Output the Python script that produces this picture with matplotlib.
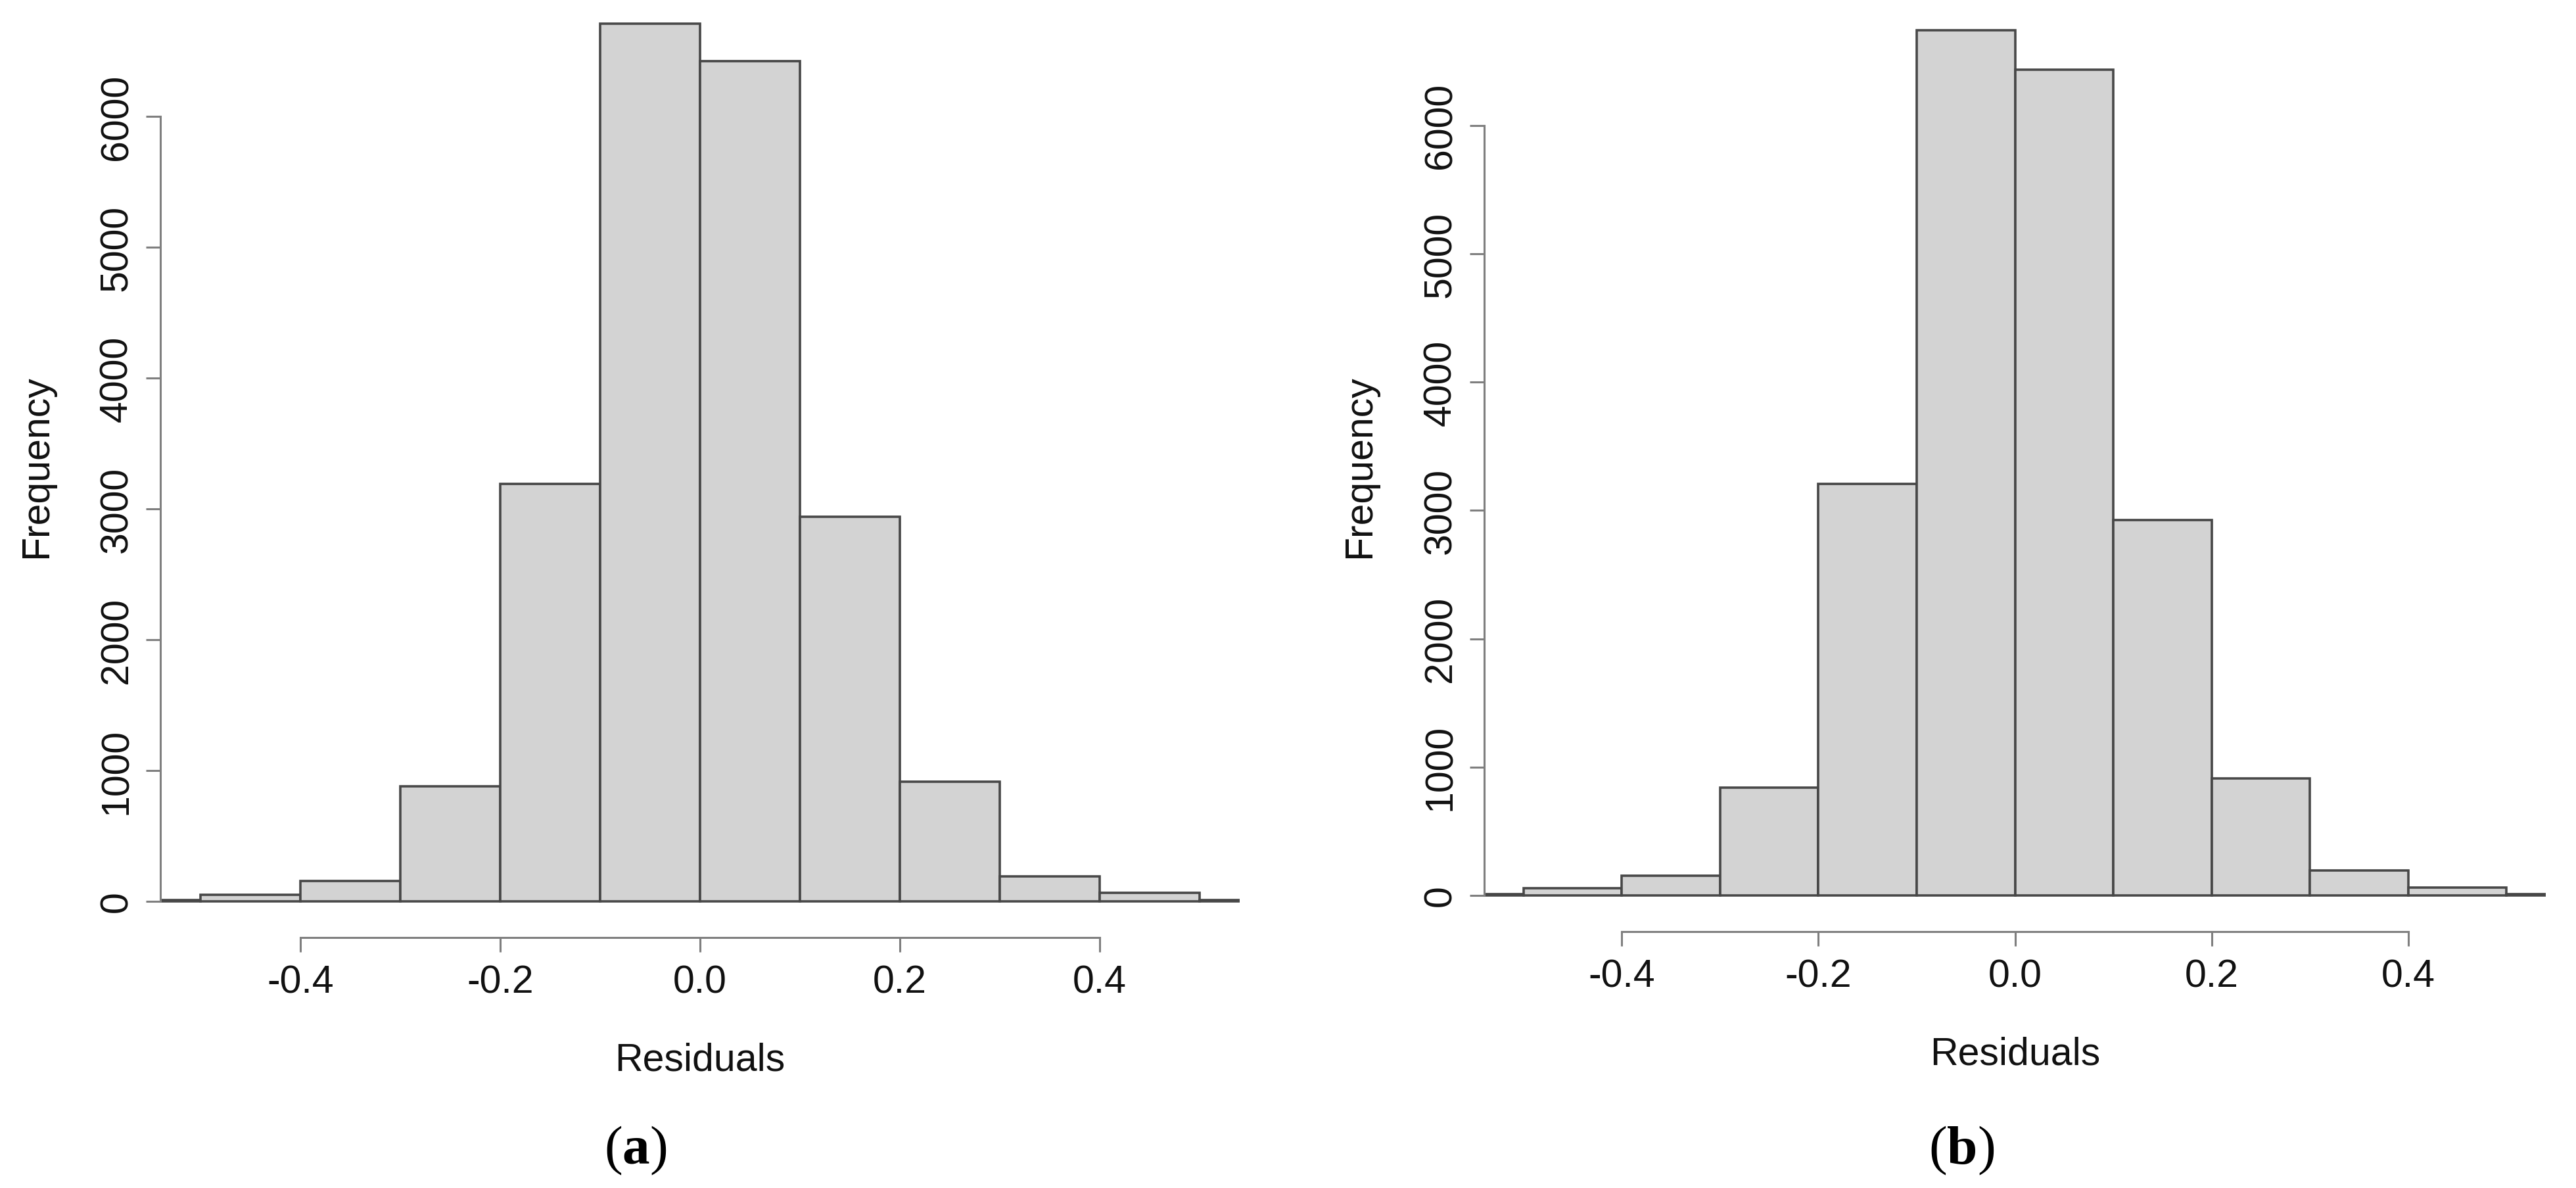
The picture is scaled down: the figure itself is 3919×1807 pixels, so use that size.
import numpy as np
import matplotlib
matplotlib.use('Agg')
import matplotlib.pyplot as plt

# histogram counts, bins of width 0.1
bin_edges = [-0.6, -0.5, -0.4, -0.3, -0.2, -0.1, 0.0, 0.1, 0.2, 0.3, 0.4, 0.5, 0.6]
counts_a = [10, 50, 155, 880, 3190, 6710, 6420, 2942, 914, 193, 67, 10]
counts_b = [10, 58, 156, 838, 3209, 6740, 6432, 2926, 914, 195, 62, 10]

x_ticks = [-0.4, -0.2, 0.0, 0.2, 0.4]
x_ticklabels = ['-0.4', '-0.2', '0.0', '0.2', '0.4']
y_ticks = [0, 1000, 2000, 3000, 4000, 5000, 6000]
captions = ['a', 'b']

W, H, DPI = 3919, 1808, 100
XLIM = (-0.54, 0.54)

plt.rcParams['font.family'] = ['Liberation Sans', 'DejaVu Sans']
plt.rcParams['mathtext.fontset'] = 'custom'
plt.rcParams['mathtext.rm'] = 'Liberation Serif'
plt.rcParams['mathtext.bf'] = 'Liberation Serif:bold'

fig = plt.figure(figsize=(W / DPI, H / DPI), dpi=DPI)

# panel geometry in pixels: left px of y axis, right px, y-pixel of 0, px per 1000, bottom ylim
panels = [
    dict(counts=counts_a, left=244, right=1886, y0=1372, per1000=199.0, ybot=-276,
         freq_x=56, res_y=1613, cap_x=967),
    dict(counts=counts_b, left=2258, right=3873, y0=1363, per1000=195.2, ybot=-282,
         freq_x=2069, res_y=1604, cap_x=2984),
]

axis_col = '#7f7f7f'
edge_col = '#474747'
fs = 42.5
lw = 2.2

for p, cap in zip(panels, captions):
    ytop = 6950
    bottom_px = p['y0'] - p['ybot'] * p['per1000'] / 1000
    top_px = p['y0'] - ytop * p['per1000'] / 1000
    ax = fig.add_axes([p['left'] / W, 1 - bottom_px / H,
                       (p['right'] - p['left']) / W, (bottom_px - top_px) / H])
    ax.set_xlim(XLIM)
    ax.set_ylim(p['ybot'], ytop)
    ax.patch.set_alpha(0)

    widths = np.diff(bin_edges)
    ax.bar(bin_edges[:-1], p['counts'], width=widths, align='edge',
           color='#d3d3d3', edgecolor=edge_col, linewidth=2.6)

    for s in ['top', 'right']:
        ax.spines[s].set_visible(False)
    ax.spines['left'].set_bounds(0, 6000)
    ax.spines['bottom'].set_bounds(-0.4, 0.4)
    for s in ['left', 'bottom']:
        ax.spines[s].set_color(axis_col)
        ax.spines[s].set_linewidth(lw)

    ax.set_xticks(x_ticks)
    ax.set_xticklabels(x_ticklabels)
    ax.set_yticks(y_ticks)
    ax.set_yticklabels([str(v) for v in y_ticks], rotation=90, va='center')
    ax.tick_params(axis='both', length=16, width=lw, color=axis_col,
                   labelsize=fs, labelcolor='#111111')
    ax.tick_params(axis='x', pad=13)
    ax.tick_params(axis='y', pad=12)

    fig.text(p['freq_x'] / W, 1 - 710 / H, 'Frequency', rotation=90,
             ha='center', va='center', fontsize=fs, color='#111111')
    xmid = (p['left'] + p['right']) / 2
    fig.text(xmid / W, 1 - p['res_y'] / H, 'Residuals',
             ha='center', va='center', fontsize=fs, color='#111111')
    fig.text(p['cap_x'] / W, 1 - 1750 / H, '(' + r'$\mathbf{' + cap + '}$' + ')',
             family='Liberation Serif', ha='center', va='center', fontsize=60)

fig.savefig('out.png', dpi=DPI)
